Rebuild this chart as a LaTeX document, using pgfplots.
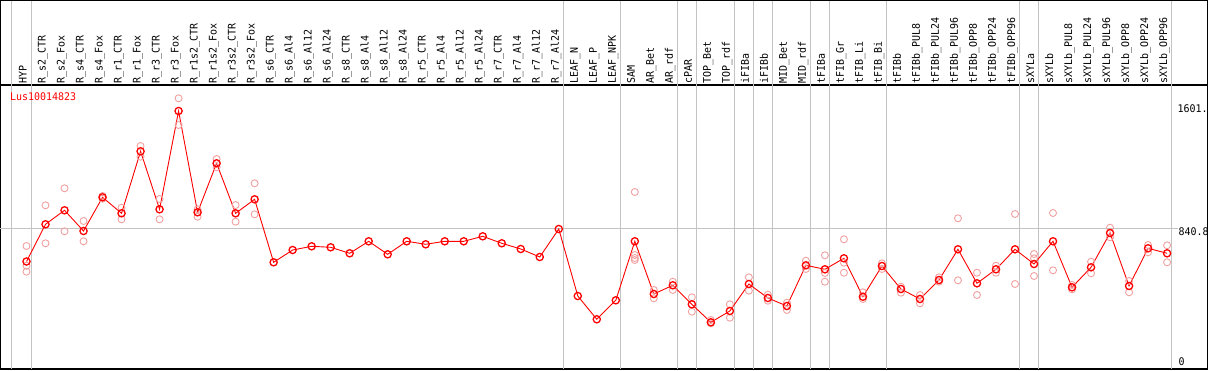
\documentclass[border=0pt]{standalone}
\usepackage{fontspec}
\usepackage{pgfplots}
\pgfplotsset{compat=1.18}
\newfontfamily\labfontfam[FakeStretch=0.95]{DejaVu Sans Mono}
\newcommand\lf{\labfontfam\fontsize{10.5pt}{12pt}\selectfont}
\definecolor{repc}{RGB}{240,160,160}
\definecolor{gridc}{RGB}{195,195,195}
\begin{document}
\begin{tikzpicture}
\begin{axis}[
  at={(0pt,0pt)}, anchor=south west,
  scale only axis, width=1207pt, height=284pt,
  xmin=-1.368, xmax=62.126, ymin=0, ymax=1697.1,
  clip=false,
  axis line style={black, line width=1.3pt},
  ytick=\empty,
  xtick={0,...,60},
  major tick length=0pt,
  xticklabel pos=upper,
  xticklabel shift=1.7pt,
  xticklabel style={rotate=90, anchor=base west, inner sep=0pt, font=\lf},
  xticklabels={HYP,R\_s2\_CTR,R\_s2\_Fox,R\_s4\_CTR,R\_s4\_Fox,R\_r1\_CTR,R\_r1\_Fox,R\_r3\_CTR,R\_r3\_Fox,R\_r1s2\_CTR,R\_r1s2\_Fox,R\_r3s2\_CTR,R\_r3s2\_Fox,R\_s6\_CTR,R\_s6\_Al4,R\_s6\_Al12,R\_s6\_Al24,R\_s8\_CTR,R\_s8\_Al4,R\_s8\_Al12,R\_s8\_Al24,R\_r5\_CTR,R\_r5\_Al4,R\_r5\_Al12,R\_r5\_Al24,R\_r7\_CTR,R\_r7\_Al4,R\_r7\_Al12,R\_r7\_Al24,LEAF\_N,LEAF\_P,LEAF\_NPK,SAM,AR\_Bet,AR\_rdf,cPAR,TOP\_Bet,TOP\_rdf,iFIBa,iFIBb,MID\_Bet,MID\_rdf,tFIBa,tFIB\_Gr,tFIB\_Li,tFIB\_Bi,tFIBb,tFIBb\_PUL8,tFIBb\_PUL24,tFIBb\_PUL96,tFIBb\_OPP8,tFIBb\_OPP24,tFIBb\_OPP96,sXYLa,sXYLb,sXYLb\_PUL8,sXYLb\_PUL24,sXYLb\_PUL96,sXYLb\_OPP8,sXYLb\_OPP24,sXYLb\_OPP96},
]
% grid lines
\pgfplotsinvokeforeach{-0.8,0.25,28.25,31.25,34.25,35.25,37.25,38.25,39.25,41.25,42.25,45.25,52.25,53.25,60.25}{
  \draw[gridc, line width=0.9pt] (axis cs:#1,0) -- ++(0pt,369pt);
}
\draw[gridc, line width=0.9pt] (axis cs:-1.368,840.8) -- (axis cs:60.55,840.8);
% replicates
\addplot[only marks, mark=o, mark size=3.5pt, repc, mark options={line width=0.9pt}] table {
x y
0 735.0
0 617.3
0 581.4
1 978.2
1 751.2
2 1079.8
2 822.9
3 884.4
3 763.1
4 1033.8
4 1017.7
5 963.9
5 894.6
6 1332.6
6 1268.7
7 1015.9
7 894.6
8 1617.6
8 1458.1
9 954.3
9 910.1
10 1254.9
10 1205.3
11 980.0
11 880.2
12 1109.7
12 924.5
32 1057.7
32 681.2
32 663.3
32 651.4
33 472.1
33 422.5
34 521.7
34 472.1
35 428.5
35 342.4
36 292.8
36 273.1
37 386.6
37 306.6
38 548.0
38 467.9
39 444.0
39 408.1
40 396.2
40 352.6
41 647.2
41 597.6
42 679.4
42 573.7
42 521.7
43 775.1
43 635.2
43 575.5
44 458.3
44 418.3
45 631.6
45 597.6
46 491.8
46 456.0
47 442.2
47 392.6
48 548.0
48 521.7
49 900.6
49 530.0
50 575.5
50 442.2
51 617.3
51 575.5
52 926.2
52 507.9
53 687.2
53 661.5
53 555.7
54 932.2
54 589.8
55 502.0
55 476.3
56 641.2
56 571.9
57 844.4
57 787.0
58 525.9
58 458.3
59 741.0
59 697.4
60 739.2
60 637.6
};
% means
\addplot[red, line width=0.9pt, mark=o, mark size=3.6pt, mark options={line width=1.3pt}] table {
x y
0 642.4
1 864.7
2 948.4
3 824.7
4 1026.0
5 930.4
6 1300.9
7 954.3
8 1541.8
9 936.4
10 1229.2
11 930.4
12 1014.1
13 637.6
14 711.1
15 733.2
16 727.3
17 691.4
18 763.1
19 685.4
20 763.1
21 745.2
22 763.1
23 763.1
24 793.0
25 751.2
26 717.1
27 669.3
28 836.6
29 436.2
30 297.0
31 410.5
32 763.1
33 448.2
34 500.2
35 386.6
36 279.1
37 346.6
38 507.9
39 424.3
40 376.5
41 619.7
42 595.8
43 661.5
44 432.0
45 615.5
46 478.1
47 418.3
48 531.8
49 715.3
50 512.1
51 595.8
52 715.3
53 627.5
54 763.1
55 488.2
56 607.7
57 812.7
58 496.0
59 721.3
60 691.4
};
\node[anchor=base west, inner sep=0pt, text=red, font=\lf] at (axis cs:-0.878,1603.3) {Lus10014823};
\node[anchor=base west, inner sep=0pt, font=\lf] at (axis cs:60.547,1529.8) {1601.};
\node[anchor=base west, inner sep=0pt, font=\lf] at (axis cs:60.60,794.8) {840.8};
\node[anchor=base west, inner sep=0pt, font=\lf] at (axis cs:60.60,19.7) {0};
\end{axis}
\draw[black, line width=1.3pt] (0,284pt) -- (0,368.5pt) -- (1207pt,368.5pt) -- (1207pt,284pt);
\pgfresetboundingbox
\path (-0.5pt,-1pt) rectangle (1208.5pt,369pt);
\end{tikzpicture}
\end{document}
